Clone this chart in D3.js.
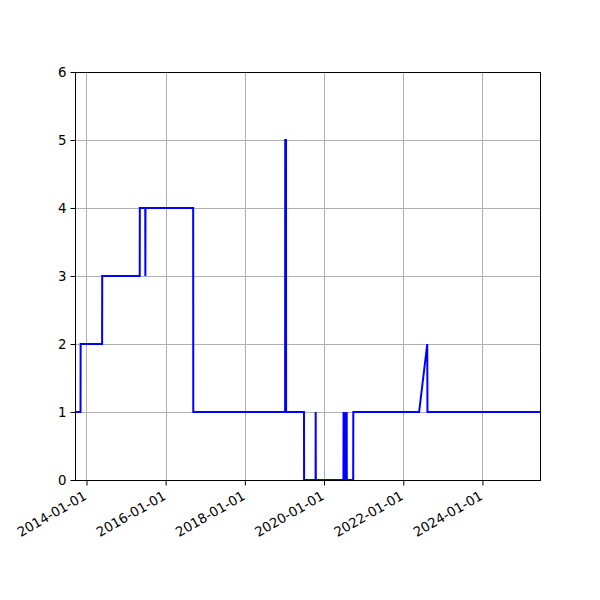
<!DOCTYPE html>
<meta charset="utf-8">
<title>Step series</title>
<style>
body { margin: 0; background: #fff; }
text { font-family: "DejaVu Sans", sans-serif; font-size: 13px; fill: #000; }
.grid line { stroke: #b0b0b0; stroke-width: 1; }
</style>
<body>
<script src="https://d3js.org/d3.v7.min.js"></script>
<script>
var dates = [
  "2013-09-17", "2013-11-07", "2013-11-08", "2014-05-25", "2014-05-26",
  "2015-05-07", "2015-05-08", "2015-06-27", "2015-06-28", "2015-06-29",
  "2016-09-11", "2016-09-12", "2019-01-07", "2019-01-08", "2019-01-15",
  "2019-01-16", "2019-06-30", "2019-07-01", "2019-10-15", "2019-10-16",
  "2019-10-17", "2020-06-28", "2020-06-29", "2020-06-30", "2020-07-12",
  "2020-07-13", "2020-07-14", "2020-07-27", "2020-07-28", "2020-07-29",
  "2020-09-26", "2020-09-27", "2022-05-27", "2022-08-10", "2022-08-12",
  "2025-06-15"
];
var values = [
  1, 1, 2, 2, 3,
  3, 4, 4, 3, 4,
  4, 1, 1, 5, 5,
  1, 1, 0, 0, 1,
  0, 0, 1, 0, 0,
  1, 0, 0, 1, 0,
  0, 1, 1, 2, 1,
  1
];
var yTicks = [0, 1, 2, 3, 4, 5, 6];
var xTicks = ["2014-01-01", "2016-01-01", "2018-01-01", "2020-01-01", "2022-01-01", "2024-01-01"];

var w = 600, h = 600,
    mLeft = 75, mRight = 540, mTop = 72, mBottom = 480;
var parse = d3.timeParse("%Y-%m-%d");
var data = dates.map(function(d, i) { return { date: parse(d), value: values[i] }; });

var x = d3.scaleTime()
    .domain(d3.extent(data, function(d) { return d.date; }))
    .range([mLeft, mRight]);
var y = d3.scaleLinear()
    .domain([0, 6])
    .range([mBottom, mTop]);

var svg = d3.select("body").append("svg")
    .attr("width", w)
    .attr("height", h);

// grid
var grid = svg.append("g").attr("class", "grid");
grid.selectAll(".gx")
    .data(xTicks.map(parse))
  .enter().append("line")
    .attr("x1", function(d) { return Math.round(x(d)) + 0.5; })
    .attr("x2", function(d) { return Math.round(x(d)) + 0.5; })
    .attr("y1", mTop).attr("y2", mBottom);
grid.selectAll(".gy")
    .data(yTicks)
  .enter().append("line")
    .attr("x1", mLeft).attr("x2", mRight)
    .attr("y1", function(d) { return Math.round(y(d)) + 0.5; })
    .attr("y2", function(d) { return Math.round(y(d)) + 0.5; });

// line
var line = d3.line()
    .x(function(d) { return x(d.date); })
    .y(function(d) { return y(d.value); });
svg.append("path")
    .datum(data)
    .attr("fill", "none")
    .attr("stroke", "#0000ff")
    .attr("stroke-width", 2)
    .attr("d", line);

// frame
svg.append("rect")
    .attr("x", mLeft + 0.5).attr("y", mTop + 0.5)
    .attr("width", mRight - mLeft).attr("height", mBottom - mTop)
    .attr("fill", "none")
    .attr("stroke", "#000")
    .attr("stroke-width", 1);

// axes
var xAxis = svg.append("g")
    .attr("transform", "translate(0," + (mBottom + 0.5) + ")")
    .call(d3.axisBottom(x)
      .tickValues(xTicks.map(parse))
      .tickFormat(d3.timeFormat("%Y-%m-%d"))
      .tickSize(5)
      .tickPadding(4)
      .tickSizeOuter(0));
xAxis.select(".domain").remove();
xAxis.selectAll("text")
    .style("font-size", "13.3px")
    .style("font-family", "DejaVu Sans, sans-serif")
    .attr("text-anchor", "end")
    .attr("dy", "0.7em")
    .attr("transform", "translate(-4,1) rotate(-30,0,9)");

var yAxis = svg.append("g")
    .attr("transform", "translate(" + (mLeft + 0.5) + ",0)")
    .call(d3.axisLeft(y)
      .tickValues(yTicks)
      .tickFormat(d3.format("d"))
      .tickSize(5)
      .tickPadding(4)
      .tickSizeOuter(0));
yAxis.select(".domain").remove();
yAxis.selectAll("text")
    .style("font-size", "13.3px")
    .style("font-family", "DejaVu Sans, sans-serif");
</script>
</body>
